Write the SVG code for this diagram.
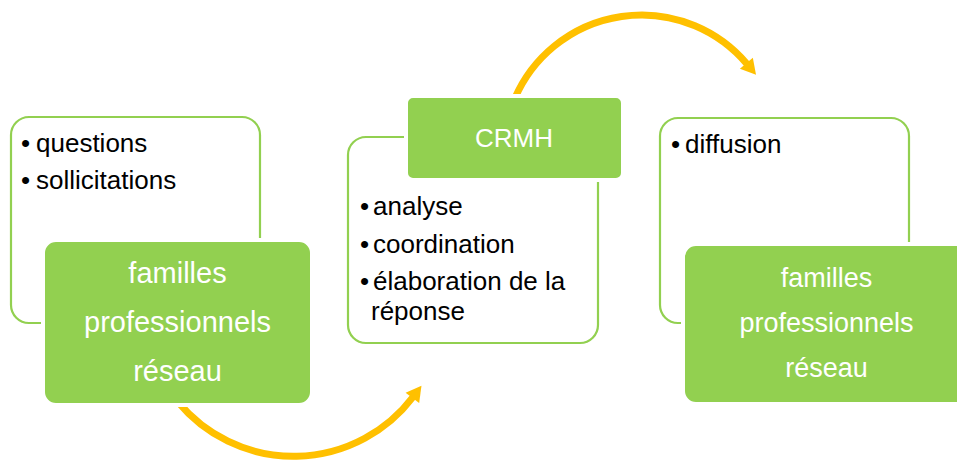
<svg xmlns="http://www.w3.org/2000/svg" width="957" height="468" viewBox="0 0 957 468">
<style>
.outline{fill:#ffffff;stroke:#92D050;stroke-width:2.2}
.fill{fill:#92D050;stroke:#ffffff;stroke-width:4}
.arc{fill:none;stroke:#FFC000;stroke-width:7}
.bul{font-family:"Liberation Sans",Arial,sans-serif;font-size:26px;fill:#000000}
.lbl{font-family:"Liberation Sans",Arial,sans-serif;fill:#ffffff;text-anchor:middle}
</style>
<defs>
<marker id="ah" markerUnits="userSpaceOnUse" markerWidth="20" markerHeight="20" refX="1" refY="0" viewBox="0 -10 20 20" orient="auto" overflow="visible">
<path d="M0,-8.5 L15,0 L0,8.5 Z" fill="#FFC000"/>
</marker>
</defs>
<rect width="957" height="468" fill="#ffffff"/>
<g id="connectors">
<path class="arc" d="M 178 402 A 150 150 0 0 0 413 397" marker-end="url(#ah)"/>
<path class="arc" d="M 515 98 A 138 138 0 0 1 747 64" marker-end="url(#ah)"/>
</g>
<g id="node-left">
<rect class="outline" x="11" y="117" width="249" height="206" rx="18"/>
<text class="bul"><tspan x="21" y="152">•</tspan><tspan x="36" y="152">questions</tspan></text>
<text class="bul"><tspan x="21" y="189">•</tspan><tspan x="36" y="189">sollicitations</tspan></text>
<rect class="fill" x="43" y="240" width="269" height="165" rx="13"/>
<text class="lbl" font-size="29" x="177.5" y="283">familles</text>
<text class="lbl" font-size="29" x="177.5" y="332">professionnels</text>
<text class="lbl" font-size="29" x="177.5" y="381">réseau</text>
</g>
<g id="node-middle">
<rect class="outline" x="348" y="137" width="250" height="206" rx="18"/>
<rect class="fill" x="406" y="96" width="217" height="84" rx="7"/>
<text class="lbl" font-size="26" x="514" y="147">CRMH</text>
<text class="bul"><tspan x="360" y="215">•</tspan><tspan x="373" y="215">analyse</tspan></text>
<text class="bul"><tspan x="360" y="253">•</tspan><tspan x="373" y="253">coordination</tspan></text>
<text class="bul"><tspan x="360" y="290">•</tspan><tspan x="373" y="290">élaboration de la</tspan></text>
<text class="bul" x="371" y="320">réponse</text>
</g>
<g id="node-right">
<rect class="outline" x="660" y="118" width="249" height="205" rx="18"/>
<text class="bul"><tspan x="671" y="153">•</tspan><tspan x="685" y="153">diffusion</tspan></text>
<rect class="fill" x="683" y="244" width="290" height="160" rx="13"/>
<text class="lbl" font-size="27" x="826.5" y="287">familles</text>
<text class="lbl" font-size="27" x="826.5" y="332">professionnels</text>
<text class="lbl" font-size="27" x="826.5" y="377">réseau</text>
</g>
</svg>
